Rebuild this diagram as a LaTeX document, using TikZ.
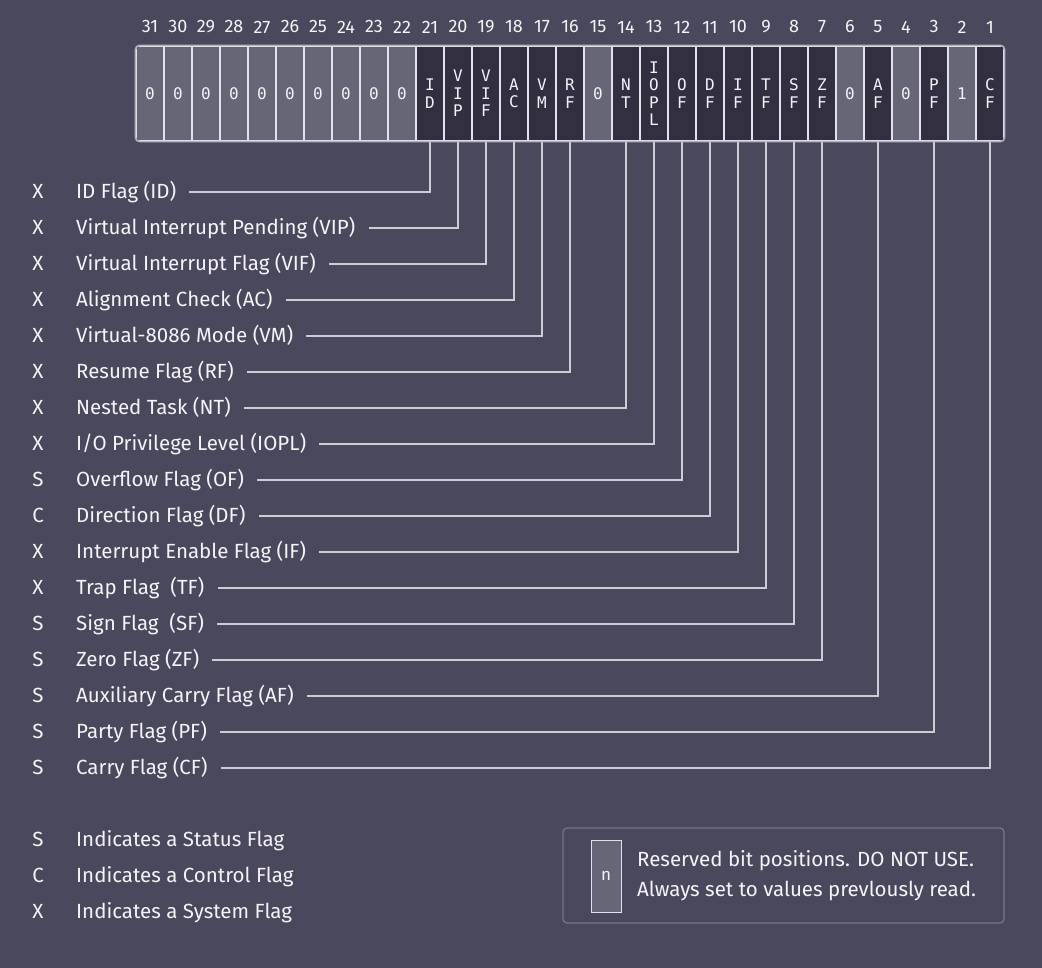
\documentclass[tikz,border=0pt]{standalone}
\usepackage{fontspec}
\setmainfont{Fira Sans}
\newfontfamily\monof{DejaVu Sans Mono}
\definecolor{bg}{HTML}{4A485C}
\definecolor{resv}{HTML}{676677}
\definecolor{cellc}{HTML}{312F40}
\definecolor{grid}{HTML}{E2E2E8}
\definecolor{frame}{HTML}{B4B3BE}
\definecolor{lead}{HTML}{CDCDD4}
\definecolor{txt}{HTML}{F4F4F6}
\definecolor{boxline}{HTML}{77758A}
\tikzset{
  cell/.style={draw=grid, line width=1.2pt, minimum width=28pt, minimum height=95pt, inner sep=0pt,
    align=center, text=txt, font={\monof\fontsize{16}{17.5}\selectfont}},
  resbit/.style={cell, fill=resv},
  flagbit/.style={cell, fill=cellc},
  bitnum/.style={text=txt, font={\fontsize{18}{20}\selectfont}, inner sep=0pt},
  kind/.style={text=txt, font={\fontsize{20.5}{22}\selectfont}, inner sep=0pt, text height=13.5pt, text depth=0pt},
  lab/.style={kind, anchor=west},
  leader/.style={draw=lead, line width=1.4pt},
}
\begin{document}
\begin{tikzpicture}[x=1pt,y=-1pt]
\fill[bg] (0,0) rectangle (1042,968);
\useasboundingbox (0,0) rectangle (1042,968);
\begin{scope}
\clip[rounded corners=4pt] (136,46) rectangle (1004,141);
\foreach \b/\t in {31/0,30/0,29/0,28/0,27/0,26/0,25/0,24/0,23/0,22/0,15/0,6/0,4/0,2/1}
  \node[resbit] (c\b) at ({150+(31-\b)*28},93.5) {\t};
\foreach \b/\t in {21/{I\\D},20/{V\\I\\P},19/{V\\I\\F},18/{A\\C},17/{V\\M},16/{R\\F},14/{N\\T},13/{I\\O\\P\\L},12/{O\\F},11/{D\\F},10/{I\\F},9/{T\\F},8/{S\\F},7/{Z\\F},5/{A\\F},3/{P\\F},1/{C\\F}}
  \node[flagbit] (c\b) at ({150+(31-\b)*28},93.5) {\t};
\end{scope}
\draw[frame, line width=1.5pt, rounded corners=4pt] (c31.north west) rectangle (c1.south east);
\foreach \b in {1,...,31}
  \node[bitnum] (n\b) at ({150+(31-\b)*28},27) {\b};
\foreach \i/\b/\k/\t in {0/21/X/{ID Flag (ID)},1/20/X/{Virtual Interrupt Pending (VIP)},2/19/X/{Virtual Interrupt Flag (VIF)},3/18/X/{Alignment Check (AC)},4/17/X/{Virtual-8086 Mode (VM)},5/16/X/{Resume Flag (RF)},6/14/X/{Nested Task (NT)},7/13/X/{I/O Privilege Level (IOPL)},8/12/S/{Overflow Flag (OF)},9/11/C/{Direction Flag (DF)},10/10/X/{Interrupt Enable Flag (IF)},11/9/X/{Trap Flag~ (TF)},12/8/S/{Sign Flag~ (SF)},13/7/S/{Zero Flag (ZF)},14/5/S/{Auxiliary Carry Flag (AF)},15/3/S/{Party Flag (PF)},16/1/S/{Carry Flag (CF)}}
{
  \node[kind] (k\b) at (38,{192+36*\i}) {\k};
  \node[lab] (l\b) at (76,{192+36*\i}) {\t};
  \draw[leader] ([xshift=13pt]l\b.east) -| (c\b.south);
}
\foreach \i/\k/\t in {0/S/{Indicates a Status Flag},1/C/{Indicates a Control Flag},2/X/{Indicates a System Flag}}
{
  \node[kind] (lk\i) at (38,{840+36*\i}) {\k};
  \node[lab] (lt\i) at (76,{840+36*\i}) {\t};
}
\node[draw=boxline, line width=1.2pt, rounded corners=4pt, minimum width=441pt, minimum height=95pt, inner sep=0pt] (legbox) at (783.5,875.5) {};
\node[draw=grid, fill=resv, line width=1pt, minimum width=30pt, minimum height=72pt, inner sep=0pt, text=txt, font={\fontsize{17}{18}\selectfont}] (nbox) at (606,876) {n};
\node[anchor=west, text=txt, align=left, inner sep=0pt, font={\fontsize{20.5}{30}\selectfont}] (legtxt) at (637,876) {Reserved bit positions. DO NOT USE.\\Always set to values prevlously read.};
\end{tikzpicture}
\end{document}
